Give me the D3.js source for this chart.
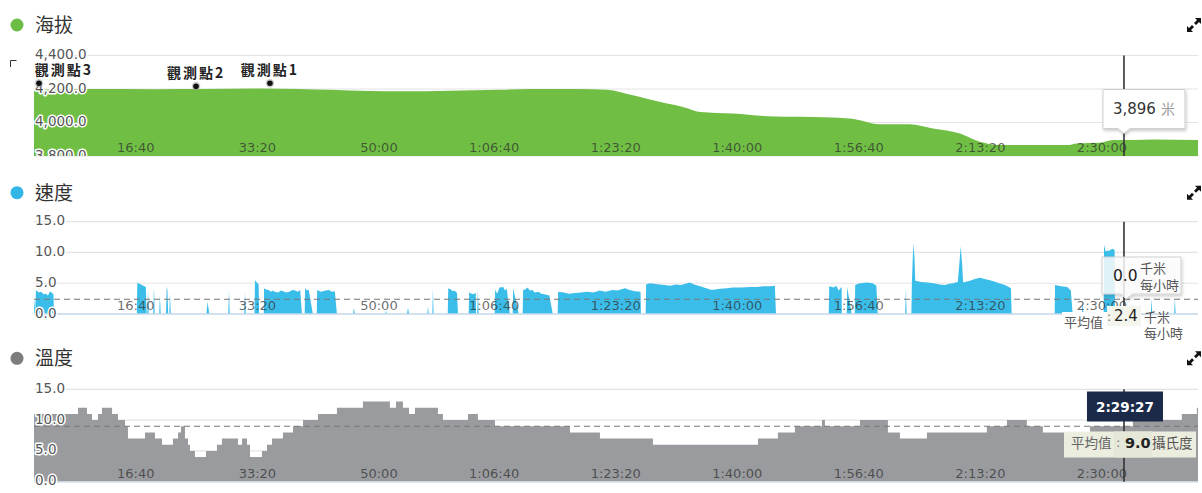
<!DOCTYPE html>
<html>
<head>
<meta charset="utf-8">
<script src="https://cdn.jsdelivr.net/npm/d3@7"></script>
<style>
body { margin: 0; background: #fff; }
svg { display: block; font-family: "DejaVu Sans", sans-serif; }
.cjk { font-family: "Noto Sans CJK TC", "Noto Sans CJK SC", sans-serif; }
</style>
</head>
<body>
<div id="chart"></div>
<script>
var width = 1202, height = 493;
var plotLeft = 34, plotRight = 1198;

// time axis, seconds
var endTime = 9576;
var timeTicks = [1000, 2000, 3000, 4000, 5000, 6000, 7000, 8000, 9000];
var timeLabels = ["16:40", "33:20", "50:00", "1:06:40", "1:23:20", "1:40:00", "1:56:40", "2:13:20", "2:30:00"];

var altTicks = [3800, 4000, 4200, 4400];
var speedTicks = [0, 5, 10, 15];
var tempTicks = [0, 5, 10, 15];

// [seconds, metres]
var altitude = [[0,4195],[300,4198],[543,4200],[1000,4199],[1366,4200],[1859,4203],[2188,4200],[2435,4195],
  [2764,4188],[3011,4186],[3422,4190],[3833,4196],[4080,4200],[4491,4200],[4713,4196],[4927,4162],[5067,4137],
  [5207,4113],[5339,4093],[5480,4063],[5750,4054],[6030,4038],[6303,4034],[6712,4024],[6959,3990],[7206,3990],
  [7396,3964],[7618,3935],[7782,3885],[7947,3865],[8497,3865],[8580,3875],[8769,3879],[8876,3895],[9041,3895],
  [9208,3899],[9576,3895]];

var waypointNames = ["觀測點3", "觀測點2", "觀測點1"];
var waypointTimes = [41, 1333, 1941];
var waypointAlts = [4234, 4216, 4234];

// [seconds, km/h]
var speed = [
  [0,2.5],[10,0.4],[16,3.9],[40,3.5],[58,3.6],[80,3.2],[99,3.3],[115,3.0],[132,3.7],[160,3.2],[165,0],
  [846,0],[850,5.1],[865,4.9],[880,4.8],[900,4.6],[920,4.4],[927,0],
  [932,0],[938,4.0],[944,0],
  [981,0],[987,4.4],[993,0],
  [1030,0],[1036,3.0],[1042,0],
  [1086,0],[1092,4.5],[1098,3.8],[1104,0],
  [1113,0],[1119,3.4],[1125,0],
  [1418,0],[1428,2.0],[1442,0],
  [1598,0],[1604,3.9],[1610,0],
  [1730,0],[1736,3.5],[1742,0],
  [1814,0],[1818,5.5],[1830,5.2],[1848,4.8],[1852,0],
  [1890,0],[1893,4.2],[1910,4.0],[1930,3.9],[1950,3.6],[1965,3.8],[1980,3.6],[2010,3.5],[2030,3.8],[2050,3.7],
  [2075,3.5],[2100,3.6],[2125,3.9],[2150,3.8],[2170,3.6],[2190,3.9],[2204,0],
  [2227,0],[2230,4.2],[2245,3.8],[2260,4.0],[2294,0],
  [2326,0],[2330,3.9],[2360,3.6],[2400,3.8],[2425,3.9],[2450,3.6],[2475,3.7],[2492,0],
  [2625,0],[2632,1.0],[2639,0],
  [2890,0],[2896,0.6],[2902,0],
  [3068,0],[3077,1.0],[3086,0],
  [3235,0],[3241,1.2],[3247,0],
  [3277,0],[3282,4.2],[3287,0],
  [3404,0],[3408,4.2],[3430,4.0],[3445,3.7],[3460,3.8],[3480,3.4],[3488,0],
  [3576,0],[3580,3.5],[3610,3.2],[3634,3.4],[3637,0],
  [3646,0],[3652,4.0],[3658,0],
  [3790,0],[3794,4.0],[3810,3.3],[3830,4.3],[3860,4.4],[3875,3.8],[3890,4.1],[3914,0],
  [3938,0],[3942,4.2],[3988,0],
  [4020,0],[4024,3.9],[4040,4.0],[4060,4.3],[4080,3.8],[4100,3.9],[4120,3.5],[4150,3.6],[4175,3.3],[4200,3.2],
  [4240,3.0],[4268,0],
  [4308,0],[4312,3.6],[4360,3.5],[4400,3.3],[4450,3.4],[4500,3.5],[4550,3.6],[4600,3.5],[4656,3.8],[4700,3.6],
  [4760,3.9],[4800,3.8],[4862,4.2],[4900,3.9],[4944,3.7],[4990,3.6],[4993,0],
  [5032,0],[5036,4.8],[5067,5.0],[5100,4.9],[5150,4.8],[5190,4.7],[5232,4.6],[5280,4.8],[5320,4.7],[5360,4.9],
  [5396,5.1],[5430,4.8],[5480,4.5],[5530,4.2],[5577,3.9],[5643,4.1],[5700,4.2],[5750,4.3],[5820,4.3],[5890,4.4],
  [5950,4.4],[6000,4.5],[6050,4.5],[6095,4.6],[6104,0],
  [6538,0],[6542,4.5],[6580,4.3],[6600,4.6],[6620,3.8],[6644,4.4],[6646,0],
  [6686,0],[6690,4.4],[6727,0],
  [6752,0],[6756,4.7],[6780,4.9],[6800,5.0],[6850,5.1],[6900,5.0],[6930,4.6],[6941,0],
  [7167,0],[7173,4.2],[7179,0],
  [7218,0],[7222,5.0],[7234,11.5],[7244,9.0],[7250,5.4],[7300,5.2],[7350,5.1],[7400,5.0],[7450,4.8],[7494,4.7],
  [7530,4.9],[7560,5.0],[7600,5.2],[7612,8.0],[7624,11.0],[7636,8.0],[7644,5.1],[7700,5.4],[7740,5.7],[7782,5.9],
  [7820,5.7],[7864,5.5],[7900,5.3],[7940,5.0],[7988,4.7],[8037,4.2],[8043,0],
  [8397,0],[8400,4.7],[8450,4.5],[8500,4.4],[8530,3.8],[8545,0],
  [8621,0],[8627,2.0],[8633,0],
  [8800,0],[8803,11.3],[8815,10.2],[8850,10.3],[8870,10.6],[8890,10.4],[8893,0],
  [9188,0],[9194,2.5],[9200,0],
  [9380,0],[9386,2.5],[9392,0]
];

// [seconds, deg C], step after
var temperature = [[0,11],[362,12],[436,11],[477,10],[526,11],[559,12],[642,11],[691,10],[749,9],[773,7],
  [913,8],[995,7],[1053,6],[1143,7],[1185,8],[1209,9],[1242,7],[1267,6],[1283,5],[1324,4],[1415,5],[1505,6],
  [1546,7],[1678,6],[1711,7],[1752,6],[1777,4],[1875,5],[1917,6],[1958,7],[2048,8],[2131,9],[2213,10],[2336,11],
  [2492,12],[2706,13],[2928,12],[2978,13],[3035,12],[3085,11],[3134,12],[3323,11],[3364,10],[3570,11],[3652,10],
  [3792,9],[4409,8],[4656,7],[5092,6],[5956,7],[6120,8],[6260,9],[6482,10],[6507,9],[6795,10],[7025,8],[7124,7],
  [7346,8],[7839,9],[8004,10],[8168,9],[8300,8],[8687,9],[9040,10],[9443,11],[9567,12],[9576,12]];

var cursorTime = 8967;
var cursorLabel = "2:29:27";
var altAtCursor = 3896;
var speedAtCursor = 0.0;
var speedAvg = 2.4;
var tempAvg = 9.0;

var svg = d3.select("#chart").append("svg")
  .attr("width", width)
  .attr("height", height);

var defs = svg.append("defs");
var shadow = defs.append("filter").attr("id", "shadow")
  .attr("x", "-20%").attr("y", "-20%").attr("width", "140%").attr("height", "150%");
shadow.append("feDropShadow").attr("dx", 1).attr("dy", 2).attr("stdDeviation", 1.5)
  .attr("flood-color", "#000").attr("flood-opacity", 0.2);

var x = d3.scaleLinear().domain([0, endTime]).range([plotLeft, plotRight]);
var cx = x(cursorTime);

var panels = [
  {id: "alt", title: "海拔", dotColor: "#6cbd45", fill: "#70bf44", top: 55.5, bottom: 156, titleY: 31.5, dotY: 25,
    domain: [3800, 4400], ticks: altTicks, fmt: d3.format(",.1f"), data: altitude, curve: d3.curveMonotoneX,
    avg: null, baseline: null, clipLabels: true},
  {id: "spd", title: "速度", dotColor: "#33b5e5", fill: "#3bbdea", top: 221.7, bottom: 314, titleY: 199.5, dotY: 192.7,
    domain: [0, 15], ticks: speedTicks, fmt: d3.format(".1f"), data: speed, curve: d3.curveLinear,
    avg: speedAvg, baseline: "#c6dbee", clipLabels: false},
  {id: "tmp", title: "溫度", dotColor: "#7d7d7d", fill: "#9a9b9f", top: 389.3, bottom: 481.7, titleY: 364.5, dotY: 358.3,
    domain: [0, 15], ticks: tempTicks, fmt: d3.format(".1f"), data: temperature, curve: d3.curveStepAfter,
    avg: tempAvg, baseline: "#c9d6e4", clipLabels: false}
];

function expandIcon(g, px, py) {
  g.append("path")
    .attr("d", "M" + (px - 7) + "," + (py + 7) + "l0,-6l2,2l3,-3l2,2l-3,3l2,2z")
    .attr("fill", "#111");
  g.append("path")
    .attr("d", "M" + (px + 7) + "," + (py - 7) + "l0,6l-2,-2l-3,3l-2,-2l3,-3l-2,-2z")
    .attr("fill", "#111");
}

panels.forEach(function(p) {
  var y = d3.scaleLinear().domain(p.domain).range([p.bottom, p.top]);
  p.y = y;
  var g = svg.append("g").attr("class", "panel-" + p.id);

  // header
  g.append("circle").attr("cx", 17).attr("cy", p.dotY).attr("r", 6.5).attr("fill", p.dotColor);
  g.append("text").attr("class", "cjk").attr("x", 35).attr("y", p.titleY)
    .attr("font-size", 19).attr("fill", "#333").text(p.title);
  expandIcon(g, 1194, p.dotY);

  // grid
  g.selectAll("line.grid").data(p.ticks).enter().append("line")
    .attr("class", "grid")
    .attr("x1", plotLeft).attr("x2", plotRight)
    .attr("y1", function(d) { return y(d); }).attr("y2", function(d) { return y(d); })
    .attr("stroke", "#e6e3e6").attr("stroke-width", 1.2);

  defs.append("clipPath").attr("id", "clip-" + p.id).append("rect")
    .attr("x", plotLeft).attr("y", p.top - 2)
    .attr("width", plotRight - plotLeft).attr("height", p.bottom - p.top + 2);

  var area = d3.area()
    .x(function(d) { return x(d[0]); })
    .y0(y(p.domain[0]))
    .y1(function(d) { return y(d[1]); })
    .curve(p.curve);

  g.append("path").datum(p.data)
    .attr("d", area)
    .attr("fill", p.fill)
    .attr("clip-path", "url(#clip-" + p.id + ")");

  if (p.baseline) {
    g.append("line").attr("x1", plotLeft).attr("x2", plotRight)
      .attr("y1", p.bottom).attr("y2", p.bottom)
      .attr("stroke", p.baseline).attr("stroke-width", 1.5);
  }

  if (p.avg !== null) {
    g.append("line").attr("x1", plotLeft).attr("x2", plotRight)
      .attr("y1", y(p.avg)).attr("y2", y(p.avg))
      .attr("stroke", "#777").attr("stroke-width", 1.2)
      .attr("stroke-dasharray", "6,4");
  }

  // time labels
  g.selectAll("text.xl").data(timeTicks).enter().append("text")
    .attr("class", "xl")
    .attr("x", function(d) { return x(d) - 1; })
    .attr("y", p.bottom - 4)
    .attr("text-anchor", "end")
    .attr("font-size", 13)
    .attr("fill", "#2f2f2f").attr("fill-opacity", 0.72)
    .text(function(d, i) { return timeLabels[i]; });

  // value labels
  var yl = g.append("g");
  if (p.clipLabels) {
    defs.append("clipPath").attr("id", "cliplab-" + p.id).append("rect")
      .attr("x", 0).attr("y", p.top - 12).attr("width", 200).attr("height", p.bottom - p.top + 12);
    yl.attr("clip-path", "url(#cliplab-" + p.id + ")");
  }
  yl.selectAll("text").data(p.ticks).enter().append("text")
    .attr("x", 35)
    .attr("y", function(d) { return y(d) + 3.5; })
    .attr("font-size", 13.5)
    .attr("fill", "#555")
    .attr("stroke", "#fff").attr("stroke-width", 3).attr("paint-order", "stroke")
    .attr("stroke-linejoin", "round")
    .text(function(d) { return p.fmt(d); });

  // cursor
  g.append("line").attr("x1", cx).attr("x2", cx)
    .attr("y1", p.top).attr("y2", p.bottom)
    .attr("stroke", "#333").attr("stroke-width", 1.6);
});

var altP = panels[0], spdP = panels[1], tmpP = panels[2];

// waypoints on altitude
var wg = svg.append("g");
waypointNames.forEach(function(name, i) {
  var px = x(waypointTimes[i]), py = altP.y(waypointAlts[i]);
  wg.append("circle").attr("cx", px).attr("cy", py).attr("r", 4.2).attr("fill", "#999").attr("opacity", 0.5);
  wg.append("circle").attr("cx", px).attr("cy", py).attr("r", 2.8).attr("fill", "#111");
  var lx = Math.max(px, 35 + 29);
  wg.append("text").attr("class", "cjk")
    .attr("x", lx).attr("y", py - 8)
    .attr("text-anchor", "middle")
    .attr("font-size", 14).attr("font-weight", "bold")
    .attr("letter-spacing", 2)
    .attr("fill", "#222")
    .text(name);
});
wg.append("path").attr("d", "M10.5,67V60.5H16.5").attr("fill", "none").attr("stroke", "#333").attr("stroke-width", 1);

// altitude tooltip
var at = svg.append("g");
var bx0 = cx - 21, bx1 = cx + 61, by0 = 89.5, by1 = 128.5;
at.append("path")
  .attr("d", "M" + bx0 + "," + by0 + "H" + bx1 + "V" + by1 + "H" + (cx + 6) + "L" + cx + "," + (by1 + 5) +
    "L" + (cx - 6) + "," + by1 + "H" + bx0 + "Z")
  .attr("fill", "#fff").attr("stroke", "#d0d0d0").attr("filter", "url(#shadow)");
at.append("text").attr("x", cx - 11).attr("y", 113.5).attr("font-size", 15).attr("fill", "#333")
  .text(d3.format(",")(altAtCursor));
at.append("text").attr("class", "cjk").attr("x", cx + 37).attr("y", 113.5).attr("font-size", 14).attr("fill", "#9a9a9a")
  .text("米");

// speed tooltip
var st = svg.append("g");
var sx0 = cx - 22, sx1 = cx + 57, sy0 = 257, sy1 = 294;
st.append("path")
  .attr("d", "M" + sx0 + "," + sy0 + "H" + sx1 + "V" + sy1 + "H" + (cx + 9) + "L" + (cx + 2) + "," + (sy1 + 5) +
    "L" + (cx - 3) + "," + sy1 + "H" + sx0 + "Z")
  .attr("fill", "#fff").attr("fill-opacity", 0.82).attr("stroke", "#d0d0d0").attr("filter", "url(#shadow)");
st.append("text").attr("x", cx - 11).attr("y", 281).attr("font-size", 15.5).attr("fill", "#222")
  .text(d3.format(".1f")(speedAtCursor));
st.append("text").attr("class", "cjk").attr("x", cx + 16).attr("y", 273).attr("font-size", 13).attr("fill", "#555").text("千米");
st.append("text").attr("class", "cjk").attr("x", cx + 16).attr("y", 289.5).attr("font-size", 13).attr("fill", "#555").text("每小時");

// speed average label
var sa = svg.append("g");
sa.append("rect").attr("x", 1062).attr("y", 312).attr("width", 45).attr("height", 19).attr("fill", "#fff");
sa.append("rect").attr("x", 1107).attr("y", 306).attr("width", 34).attr("height", 20).attr("fill", "#f4f5ec");
sa.append("text").attr("class", "cjk").attr("x", 1064).attr("y", 327).attr("font-size", 13).attr("fill", "#555").text("平均值");
sa.append("text").attr("x", 1107).attr("y", 321).attr("font-size", 13).attr("fill", "#777").text(":");
sa.append("text").attr("x", 1114).attr("y", 321).attr("font-size", 15).attr("fill", "#222")
  .text(d3.format(".1f")(speedAvg));
sa.append("text").attr("class", "cjk").attr("x", 1144).attr("y", 322).attr("font-size", 13).attr("fill", "#555").text("千米");
sa.append("text").attr("class", "cjk").attr("x", 1144).attr("y", 338).attr("font-size", 13).attr("fill", "#555").text("每小時");

// temperature time flag
var tt = svg.append("g");
tt.append("rect").attr("x", cx - 37).attr("y", 391.5).attr("width", 76).attr("height", 30).attr("fill", "#1b2a49");
tt.append("text").attr("x", cx + 1).attr("y", 411.5).attr("text-anchor", "middle")
  .attr("font-size", 13.5).attr("font-weight", "bold").attr("fill", "#fff").text(cursorLabel);

// temperature average label
var ta = svg.append("g");
ta.append("rect").attr("x", 1064).attr("y", 431.5).attr("width", 132).attr("height", 26).attr("fill", "#eff1e3").attr("fill-opacity", 0.95);
ta.append("rect").attr("x", 1114).attr("y", 431.5).attr("width", 38).attr("height", 26).attr("fill", "#e5e7d8");
ta.append("text").attr("class", "cjk").attr("x", 1071).attr("y", 448).attr("font-size", 13.5).attr("fill", "#666").text("平均值");
ta.append("text").attr("x", 1116).attr("y", 447).attr("font-size", 13).attr("fill", "#777").text(":");
ta.append("text").attr("x", 1125).attr("y", 447.5).attr("font-size", 14.5).attr("font-weight", "bold").attr("fill", "#222")
  .text(d3.format(".1f")(tempAvg));
ta.append("text").attr("class", "cjk").attr("x", 1152).attr("y", 448).attr("font-size", 13.5).attr("fill", "#555").text("攝氏度");
</script>
</body>
</html>
